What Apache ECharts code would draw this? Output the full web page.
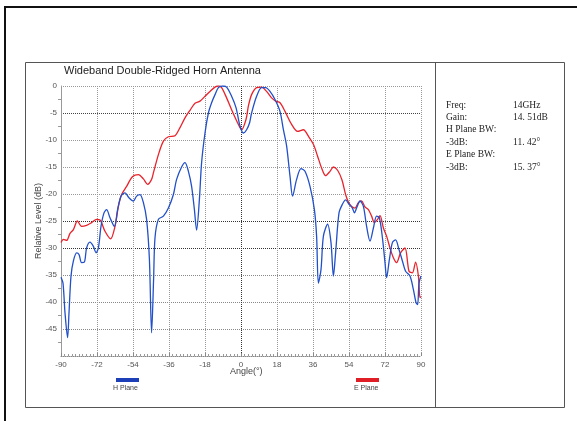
<!DOCTYPE html>
<html>
<head>
<meta charset="utf-8">
<script src="https://cdn.jsdelivr.net/npm/echarts@6/dist/echarts.min.js"></script>
<style>
html,body{margin:0;padding:0;background:#fff;}
#c{width:577px;height:421px;}
</style>
</head>
<body>
<div id="c"></div>
<script>
// ---- data ----
const chartTitle = 'Wideband Double-Ridged Horn Antenna';
const xTicks = [-90, -72, -54, -36, -18, 0, 18, 36, 54, 72, 90];
const yTicks = [0, -5, -10, -15, -20, -25, -30, -35, -40, -45];

const hAngles = [-90, -89, -88, -86.7, -86, -85, -83.8, -82.2, -81, -79.7, -78.3, -77.2, -75.5, -73.8, -72.5, -71.3, -70, -68.5, -67.2, -65.5, -63.3, -61.7, -60, -58, -56, -53.8, -52.2, -50.5, -48.8, -47.2, -45.8, -44.7, -43.7, -43, -41.3, -38.8, -36.3, -33.8, -32.2, -29.7, -28, -26.3, -24.7, -23.3, -22.2, -20.8, -19.7, -18, -16.3, -14.7, -13, -11.3, -9.2, -7.2, -4.7, -2.5, -0.5, 1.2, 2.8, 4.3, 5.3, 7.8, 10.3, 12.3, 14.5, 17, 19.5, 21.2, 22.8, 24.5, 25.8, 27.8, 30, 32, 34.5, 36.7, 37.8, 38.7, 40, 41.2, 43.3, 45, 46.2, 47.3, 49, 50.7, 52.3, 54, 55.7, 56.7, 57.8, 59.5, 61.2, 62.8, 64.5, 66.2, 67.8, 69.2, 70.8, 72, 72.8, 74.2, 75.7, 77.3, 79, 80.7, 82.3, 84.5, 86.2, 87.5, 88.3, 89, 90];
const hLevels = [-35.4, -36.5, -42, -46.6, -42, -35.2, -32.4, -30.9, -31.2, -32.7, -32.6, -30, -28.9, -29.7, -30.9, -30, -26, -23.5, -22.9, -24.4, -26, -22.9, -20.4, -19.8, -20.7, -21.3, -20.4, -20.1, -21.6, -24.7, -32.1, -45.7, -35.8, -28.1, -24.7, -24.1, -22.6, -20.1, -17.3, -15, -14.2, -15.8, -18.6, -22.9, -26.7, -21, -14.2, -8.7, -5, -3.1, -1.6, -0.3, 0, -0.2, -1.9, -4, -7.4, -8.7, -8.1, -6.8, -5, -1.9, -0.3, -0.3, -1, -2.5, -4.7, -8.1, -11.1, -16.7, -20.4, -17.3, -15.3, -15.8, -18.6, -22.9, -27.8, -36.5, -34, -27.8, -25.6, -29, -35.2, -30.9, -23.5, -21.9, -21.1, -21.9, -22.6, -23.5, -22.6, -21.3, -22.3, -26, -28.7, -26.3, -24.1, -24.4, -28.4, -32.7, -35.5, -32.1, -29, -28.5, -30.3, -32.4, -34.3, -35.2, -37.7, -40.1, -40.5, -36.5, -35.2];

const eAngles = [-90, -88.8, -87.2, -85.5, -83.8, -81.8, -79.7, -77.2, -74.7, -72.2, -70.5, -68, -65.2, -63, -61.3, -59.7, -57.2, -54.3, -51.3, -48.8, -46.7, -44.7, -43.8, -41.3, -38.8, -36.3, -33, -30.5, -28, -25.5, -23, -20.5, -18, -15.5, -13, -11.3, -9.7, -7.2, -4.7, -2.5, -0.5, 0.3, 2.5, 3.7, 5.3, 7.8, 10.3, 12.8, 15.3, 17.3, 19.5, 22, 25.3, 28.3, 31.2, 33.7, 36.2, 38.3, 40.3, 42.3, 44.5, 46.2, 48.3, 50.5, 52.3, 53.7, 55.3, 57, 58.7, 60.3, 62, 63.7, 65.3, 66.7, 68.3, 69.5, 71.2, 72.8, 74.5, 76.2, 77.8, 79.8, 82, 84, 85.7, 87.3, 88.7, 89.5, 90];
const eLevels = [-29, -28.4, -28.6, -27.3, -26.6, -25, -26, -25.8, -25.3, -24.7, -24.8, -26.9, -28.3, -26, -22.3, -20.1, -18.6, -16.8, -16.4, -17.2, -18.2, -17.3, -16.1, -12.7, -10.2, -9.4, -9.2, -7.7, -5.9, -4.5, -3.2, -2.8, -1.9, -1, -0.2, 0, -0.3, -2.2, -4.4, -6.2, -7.7, -8.1, -6.2, -3.7, -1.6, -0.3, -0.2, -1, -2.2, -2.8, -3.1, -4.7, -7.1, -8.4, -8.1, -9.3, -10.8, -13, -15.2, -16.6, -15.8, -15, -15.6, -17.4, -20.1, -21.5, -22.3, -22.6, -21.6, -21.3, -22.4, -22.9, -24.1, -25.3, -24.7, -24, -26.3, -27.8, -30, -31.8, -32.7, -30.9, -30, -34.3, -34.6, -32.6, -35.2, -39.2, -39];

const infoLabels = ['Freq:', 'Gain:', 'H Plane BW:', '-3dB:', 'E Plane BW:', '-3dB:'];
const infoValues = ['14GHz', '14. 51dB', '', '11. 42°', '', '15. 37°'];

// ---- chart ----
const zip = (a, b) => a.map((v, i) => [v, b[i]]);
const chart = echarts.init(document.getElementById('c'), null, {renderer: 'canvas'});

const ySplitColors = ['#aaa', '#888', '#888', '#888', '#333', '#333', '#999', '#999', '#999', '#444', '#999'];
const xSplitColors = ['#999', '#999', '#999', '#999', '#999', '#333', '#999', '#999', '#999', '#999', '#999'];

const graphics = [
  {type: 'rect', shape: {x: 5, y: 7, width: 640, height: 480}, style: {fill: 'none', stroke: '#111', lineWidth: 2}, silent: true},
  {type: 'rect', shape: {x: 25.5, y: 62.5, width: 539, height: 345}, style: {fill: 'none', stroke: '#555', lineWidth: 1}, silent: true},
  {type: 'line', shape: {x1: 435.5, y1: 62.5, x2: 435.5, y2: 407.5}, style: {stroke: '#555', lineWidth: 1}, silent: true},
  {type: 'text', left: 230, top: 367, style: {text: 'Angle(°)', font: '9px "Liberation Sans", Arial, sans-serif', fill: '#444'}},
  {type: 'text', left: 113, top: 385, style: {text: 'H Plane', font: '7px "Liberation Sans", Arial, sans-serif', fill: '#444'}},
  {type: 'text', left: 354, top: 385, style: {text: 'E Plane', font: '7px "Liberation Sans", Arial, sans-serif', fill: '#444'}}
];
infoLabels.forEach((t, i) => {
  graphics.push({type: 'text', left: 446, top: 100 + i * 12.4, style: {text: t, font: '9.5px "Liberation Serif", serif', fill: '#222'}});
  if (infoValues[i]) graphics.push({type: 'text', left: 513, top: 100 + i * 12.4, style: {text: infoValues[i], font: '9.5px "Liberation Serif", serif', fill: '#222'}});
});

chart.setOption({
  animation: false,
  backgroundColor: '#fff',
  title: {
    text: chartTitle, left: 59, top: 60,
    textStyle: {fontFamily: '"Liberation Sans", Arial, sans-serif', fontSize: 11, fontWeight: 'normal', color: '#222'}
  },
  legend: [
    {data: ['H Plane'], left: 116, top: 378, itemWidth: 23, itemHeight: 4, icon: 'rect', formatter: () => '', itemGap: 0, padding: 0,
     textStyle: {fontSize: 1}},
    {data: ['E Plane'], left: 356, top: 378, itemWidth: 23, itemHeight: 4, icon: 'rect', formatter: () => '', itemGap: 0, padding: 0,
     textStyle: {fontSize: 1}}
  ],
  grid: {left: 61, right: 156, top: 86, bottom: 65, containLabel: false},
  xAxis: {
    type: 'value', min: -90, max: 90, interval: 18, position: 'bottom',
    axisLine: {show: true, onZero: false, lineStyle: {color: '#888', type: 'dotted'}},
    axisTick: {show: true, inside: true, length: 3, lineStyle: {color: '#888'}},
    minorTick: {show: true, splitNumber: 10, length: 2, lineStyle: {color: '#999'}},
    axisLabel: {fontSize: 8, color: '#555', margin: 5, fontFamily: '"Liberation Sans", Arial, sans-serif'},
    splitLine: {show: true, lineStyle: {color: xSplitColors, type: 'dotted', width: 1}}
  },
  yAxis: {
    type: 'value', min: -50, max: 0, interval: 5, position: 'left',
    name: 'Relative Level (dB)', nameLocation: 'middle', nameGap: 18, nameMoveOverlap: false,
    nameTextStyle: {fontSize: 9, color: '#444', fontFamily: '"Liberation Sans", Arial, sans-serif'},
    axisLine: {show: true, onZero: false, lineStyle: {color: '#999'}},
    axisTick: {show: false},
    minorTick: {show: true, splitNumber: 2, length: 3, lineStyle: {color: '#999'}},
    axisLabel: {fontSize: 8, color: '#555', margin: 4, fontFamily: '"Liberation Sans", Arial, sans-serif',
      formatter: v => (v === -50 ? '' : String(v))},
    splitLine: {show: true, lineStyle: {color: ySplitColors, type: 'dotted', width: 1}}
  },
  series: [
    {name: 'H Plane', type: 'line', data: zip(hAngles, hLevels), smooth: 0.3, showSymbol: false,
     lineStyle: {color: '#2150c8', width: 1.3}, itemStyle: {color: '#1d3fb8'}, z: 3},
    {name: 'E Plane', type: 'line', data: zip(eAngles, eLevels), smooth: 0.3, showSymbol: false,
     lineStyle: {color: '#e8232b', width: 1.3}, itemStyle: {color: '#e01e26'}, z: 2}
  ],
  graphic: graphics
});
</script>
</body>
</html>
